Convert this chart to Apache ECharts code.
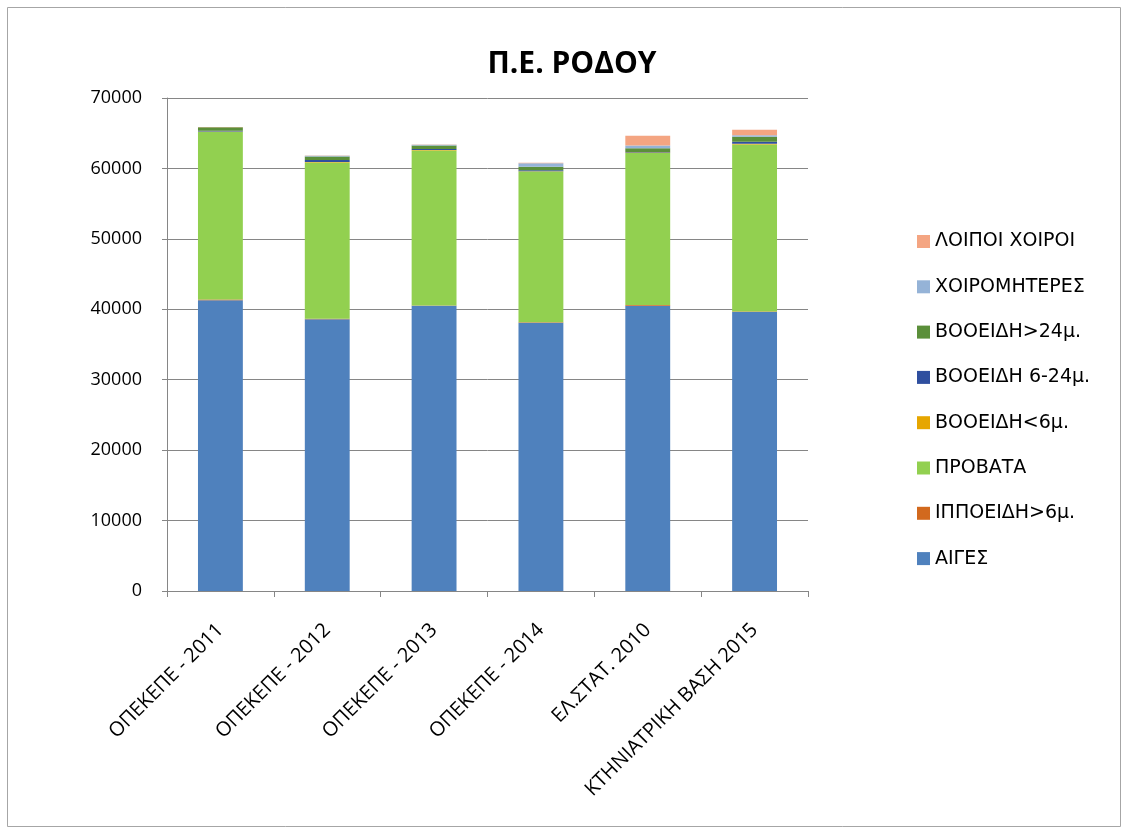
<!DOCTYPE html>
<html><head><meta charset="utf-8">
<script src="https://cdn.jsdelivr.net/npm/echarts@6/dist/echarts.min.js"></script>
<style>html,body{margin:0;padding:0;background:#fff}#c{width:1128px;height:834px}</style>
</head><body><div id="c"></div>
<script>
const categories = ['ΟΠΕΚΕΠΕ - 2011','ΟΠΕΚΕΠΕ - 2012','ΟΠΕΚΕΠΕ - 2013','ΟΠΕΚΕΠΕ - 2014','ΕΛ.ΣΤΑΤ. 2010','ΚΤΗΝΙΑΤΡΙΚΗ ΒΑΣΗ 2015'];
const aiges        = [41300, 38600, 40500, 38100, 40500, 39600];
const ippoeidi     = [100, 50, 50, 50, 100, 100];
const provata      = [23800, 22200, 22000, 21400, 21600, 23700];
const vooeidiLt6   = [50, 50, 50, 50, 50, 100];
const vooeidi6_24  = [100, 300, 150, 150, 100, 300];
const vooeidiGt24  = [500, 500, 500, 500, 500, 700];
const xoiromiteres = [0, 100, 100, 500, 400, 200];
const loipoiXoiroi = [50, 50, 50, 50, 1400, 800];

const seriesDefs = [
  ['ΑΙΓΕΣ', aiges, '#4f81bd'],
  ['ΙΠΠΟΕΙΔΗ>6μ.', ippoeidi, '#d2691e'],
  ['ΠΡΟΒΑΤΑ', provata, '#92d050'],
  ['ΒΟΟΕΙΔΗ<6μ.', vooeidiLt6, '#e6a600'],
  ['ΒΟΟΕΙΔΗ 6-24μ.', vooeidi6_24, '#2f4f9f'],
  ['ΒΟΟΕΙΔΗ>24μ.', vooeidiGt24, '#5b8f3a'],
  ['ΧΟΙΡΟΜΗΤΕΡΕΣ', xoiromiteres, '#95b3d7'],
  ['ΛΟΙΠΟΙ ΧΟΙΡΟΙ', loipoiXoiroi, '#f4a582']
];

const chart = echarts.init(document.getElementById('c'));
chart.setOption({
  animation: false,
  backgroundColor: '#fff',
  graphic: [{type:'rect', shape:{x:7.5,y:7.5,width:1113,height:819}, style:{fill:'none', stroke:'#a6a6a6', lineWidth:1}, silent:true}],
  title: {text:'Π.Ε. ΡΟΔΟΥ', left:567, top:44, textAlign:'center',
    textStyle:{fontFamily:'Open Sans', fontSize:30, fontWeight:'bold', color:'#000'}},
  legend: {
    orient:'vertical', left:912, top:227, itemWidth:13, itemHeight:13, itemGap:26.3,
    icon:'rect',
    data: seriesDefs.map(s=>s[0]).reverse(),
    textStyle:{fontFamily:'DejaVu Sans', fontSize:19, color:'#000'}
  },
  grid: {left:167, right:320, top:98, bottom:243, containLabel:false},
  xAxis: {
    type:'category', data:categories,
    axisLine:{lineStyle:{color:'#868686'}},
    axisTick:{show:true, alignWithLabel:false, length:6, lineStyle:{color:'#868686'}},
    axisLabel:{rotate:45, interval:0, margin:36, fontFamily:'Open Sans', fontSize:20, color:'#000'}
  },
  yAxis: {
    type:'value', min:0, max:70000, interval:10000,
    axisLine:{show:true, lineStyle:{color:'#868686'}},
    axisTick:{show:true, length:5, inside:false, lineStyle:{color:'#868686'}},
    splitLine:{lineStyle:{color:'#868686'}},
    axisLabel:{fontFamily:'Open Sans', fontSize:18, color:'#000', margin:25, formatter: v => String(v)}
  },
  series: seriesDefs.map(s=>({
    name:s[0], type:'bar', stack:'total', data:s[1], barWidth:'42%',
    itemStyle:{color:s[2]}
  }))
});
</script></body></html>
